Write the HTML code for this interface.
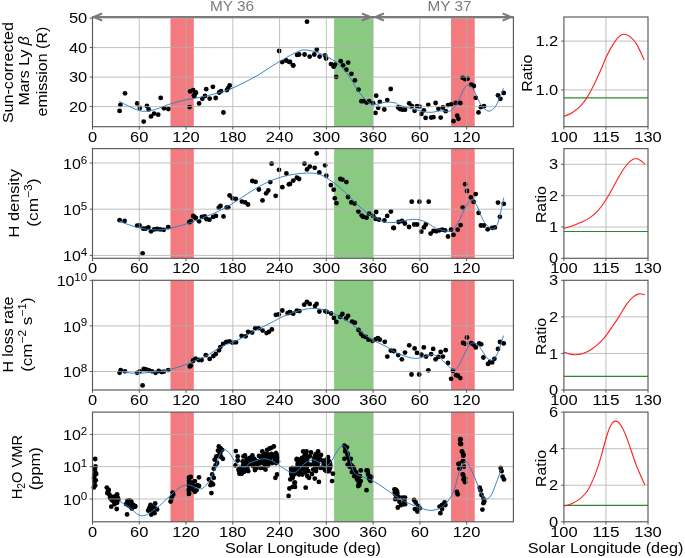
<!DOCTYPE html>
<html><head><meta charset="utf-8"><style>
html,body{margin:0;padding:0;background:#fff;overflow:hidden;}
svg{display:block;will-change:transform;}
text{font-family:"Liberation Sans",sans-serif;}
</style></head><body>
<svg width="685" height="558" viewBox="0 0 685 558">
<rect width="685" height="558" fill="#fff"/>
<g>
<rect x="170.44" y="17" width="23.38" height="109.7" fill="#f37b80"/>
<rect x="451.04" y="17" width="23.68" height="109.7" fill="#f37b80"/>
<rect x="334.13" y="17" width="38.97" height="109.7" fill="#8ac982"/>
<g fill="#000">
<circle cx="125" cy="93.3" r="2.4"/>
<circle cx="120.4" cy="104.9" r="2.4"/>
<circle cx="119.6" cy="110.9" r="2.4"/>
<circle cx="137.2" cy="103.4" r="2.4"/>
<circle cx="139.8" cy="108" r="2.4"/>
<circle cx="146.9" cy="106" r="2.4"/>
<circle cx="148.7" cy="109.4" r="2.4"/>
<circle cx="151" cy="116.4" r="2.4"/>
<circle cx="154.1" cy="113.6" r="2.4"/>
<circle cx="158.2" cy="114.7" r="2.4"/>
<circle cx="143.7" cy="121.6" r="2.4"/>
<circle cx="160.7" cy="97.9" r="2.4"/>
<circle cx="164" cy="108.3" r="2.4"/>
<circle cx="168.3" cy="109" r="2.4"/>
<circle cx="189.6" cy="107.1" r="2.4"/>
<circle cx="190.1" cy="91.4" r="2.4"/>
<circle cx="193.2" cy="90.2" r="2.4"/>
<circle cx="194.4" cy="96" r="2.4"/>
<circle cx="195.5" cy="92.5" r="2.4"/>
<circle cx="196" cy="92.8" r="2.4"/>
<circle cx="193.9" cy="95.5" r="2.4"/>
<circle cx="199.1" cy="103.4" r="2.4"/>
<circle cx="202.3" cy="98.8" r="2.4"/>
<circle cx="205" cy="96" r="2.4"/>
<circle cx="206.2" cy="89.2" r="2.4"/>
<circle cx="209.7" cy="98.6" r="2.4"/>
<circle cx="212.9" cy="86.8" r="2.4"/>
<circle cx="215.7" cy="98" r="2.4"/>
<circle cx="219.2" cy="92.5" r="2.4"/>
<circle cx="221.1" cy="91.2" r="2.4"/>
<circle cx="223.4" cy="112.5" r="2.4"/>
<circle cx="227" cy="90.1" r="2.4"/>
<circle cx="228.2" cy="88.1" r="2.4"/>
<circle cx="229.7" cy="85.4" r="2.4"/>
<circle cx="279.1" cy="51" r="2.4"/>
<circle cx="282.2" cy="62.1" r="2.4"/>
<circle cx="286.2" cy="60.5" r="2.4"/>
<circle cx="289" cy="61.8" r="2.4"/>
<circle cx="293.3" cy="65.5" r="2.4"/>
<circle cx="307" cy="21.7" r="2.4"/>
<circle cx="290" cy="62" r="2.4"/>
<circle cx="293" cy="65.3" r="2.4"/>
<circle cx="297.1" cy="54.9" r="2.4"/>
<circle cx="299.1" cy="54.5" r="2.4"/>
<circle cx="304.6" cy="54.5" r="2.4"/>
<circle cx="309.7" cy="56.6" r="2.4"/>
<circle cx="314.3" cy="54.5" r="2.4"/>
<circle cx="316.8" cy="49.5" r="2.4"/>
<circle cx="319.6" cy="56.6" r="2.4"/>
<circle cx="325.1" cy="55.5" r="2.4"/>
<circle cx="326.1" cy="58.6" r="2.4"/>
<circle cx="331" cy="64.1" r="2.4"/>
<circle cx="333.6" cy="66.7" r="2.4"/>
<circle cx="335" cy="64.7" r="2.4"/>
<circle cx="336.2" cy="76.8" r="2.4"/>
<circle cx="340.7" cy="61.2" r="2.4"/>
<circle cx="343.1" cy="65.3" r="2.4"/>
<circle cx="348.2" cy="62.6" r="2.4"/>
<circle cx="346.4" cy="69.7" r="2.4"/>
<circle cx="351.4" cy="73.8" r="2.4"/>
<circle cx="354.9" cy="80.3" r="2.4"/>
<circle cx="358.5" cy="89.6" r="2.4"/>
<circle cx="361.4" cy="101.2" r="2.4"/>
<circle cx="363.4" cy="101.2" r="2.4"/>
<circle cx="366.6" cy="102.6" r="2.4"/>
<circle cx="369.1" cy="101.2" r="2.4"/>
<circle cx="373.1" cy="103.2" r="2.4"/>
<circle cx="376.2" cy="95.7" r="2.4"/>
<circle cx="379.8" cy="101.8" r="2.4"/>
<circle cx="378.2" cy="107.8" r="2.4"/>
<circle cx="375.5" cy="112.9" r="2.4"/>
<circle cx="384.3" cy="109.5" r="2.4"/>
<circle cx="387.3" cy="100.1" r="2.4"/>
<circle cx="390.7" cy="89" r="2.4"/>
<circle cx="398.2" cy="107.5" r="2.4"/>
<circle cx="400" cy="109" r="2.4"/>
<circle cx="402.4" cy="109.7" r="2.4"/>
<circle cx="405" cy="109.7" r="2.4"/>
<circle cx="409.2" cy="103.3" r="2.4"/>
<circle cx="411.9" cy="106.1" r="2.4"/>
<circle cx="414.6" cy="110.8" r="2.4"/>
<circle cx="417" cy="106.1" r="2.4"/>
<circle cx="419.6" cy="106.6" r="2.4"/>
<circle cx="423.8" cy="110.3" r="2.4"/>
<circle cx="421.4" cy="113.9" r="2.4"/>
<circle cx="425.6" cy="117.9" r="2.4"/>
<circle cx="428.3" cy="104.8" r="2.4"/>
<circle cx="431.1" cy="117.6" r="2.4"/>
<circle cx="433.4" cy="117.2" r="2.4"/>
<circle cx="435.6" cy="103" r="2.4"/>
<circle cx="438.4" cy="108.8" r="2.4"/>
<circle cx="440.7" cy="117.6" r="2.4"/>
<circle cx="442.9" cy="107.5" r="2.4"/>
<circle cx="445.7" cy="111.2" r="2.4"/>
<circle cx="448" cy="105.1" r="2.4"/>
<circle cx="451.1" cy="104.4" r="2.4"/>
<circle cx="453.5" cy="121.2" r="2.4"/>
<circle cx="457.2" cy="115.7" r="2.4"/>
<circle cx="458.4" cy="118.8" r="2.4"/>
<circle cx="455.7" cy="103" r="2.4"/>
<circle cx="460.3" cy="103" r="2.4"/>
<circle cx="462.6" cy="77.8" r="2.4"/>
<circle cx="465.2" cy="79.2" r="2.4"/>
<circle cx="467.6" cy="78.7" r="2.4"/>
<circle cx="471.2" cy="84.7" r="2.4"/>
<circle cx="473.9" cy="86" r="2.4"/>
<circle cx="475.8" cy="97.8" r="2.4"/>
<circle cx="478.5" cy="112.4" r="2.4"/>
<circle cx="480.9" cy="107.2" r="2.4"/>
<circle cx="484" cy="106.2" r="2.4"/>
<circle cx="498" cy="95.3" r="2.4"/>
<circle cx="500.4" cy="98.8" r="2.4"/>
<circle cx="503.7" cy="92.9" r="2.4"/>
</g>
<line x1="139.27" y1="17" x2="139.27" y2="126.7" stroke="#b0b0b0" stroke-width="0.8"/>
<line x1="186.03" y1="17" x2="186.03" y2="126.7" stroke="#b0b0b0" stroke-width="0.8"/>
<line x1="232.8" y1="17" x2="232.8" y2="126.7" stroke="#b0b0b0" stroke-width="0.8"/>
<line x1="279.57" y1="17" x2="279.57" y2="126.7" stroke="#b0b0b0" stroke-width="0.8"/>
<line x1="326.33" y1="17" x2="326.33" y2="126.7" stroke="#b0b0b0" stroke-width="0.8"/>
<line x1="373.1" y1="17" x2="373.1" y2="126.7" stroke="#b0b0b0" stroke-width="0.8"/>
<line x1="419.87" y1="17" x2="419.87" y2="126.7" stroke="#b0b0b0" stroke-width="0.8"/>
<line x1="466.63" y1="17" x2="466.63" y2="126.7" stroke="#b0b0b0" stroke-width="0.8"/>
<line x1="92.5" y1="106.6" x2="513.4" y2="106.6" stroke="#b0b0b0" stroke-width="0.8"/>
<line x1="92.5" y1="77.1" x2="513.4" y2="77.1" stroke="#b0b0b0" stroke-width="0.8"/>
<line x1="92.5" y1="47.6" x2="513.4" y2="47.6" stroke="#b0b0b0" stroke-width="0.8"/>
<line x1="92.5" y1="18.1" x2="513.4" y2="18.1" stroke="#b0b0b0" stroke-width="0.8"/>
<path d="M119.3,101.4 C121.08,102.3 126.12,105.15 130,106.8 C133.88,108.45 138.2,110.92 142.6,111.3 C147,111.68 152.07,110.23 156.4,109.1 C160.73,107.97 164,105.98 168.6,104.5 C173.2,103.02 178.77,101.4 184,100.2 C189.23,99 194.9,98.35 200,97.3 C205.1,96.25 209.73,95.2 214.6,93.9 C219.47,92.6 224.33,91.37 229.2,89.5 C234.07,87.63 238.93,85.13 243.8,82.7 C248.67,80.27 253.53,77.78 258.4,74.9 C263.27,72.02 269.1,67.83 273,65.4 C276.9,62.97 278.88,62 281.8,60.3 C284.72,58.6 287.47,56.78 290.5,55.2 C293.53,53.62 297.42,51.67 300,50.8 C302.58,49.93 302.6,49.55 306,50 C309.4,50.45 315.3,51.4 320.4,53.5 C325.5,55.6 331.87,58.88 336.6,62.6 C341.33,66.32 345.42,71.4 348.8,75.8 C352.18,80.2 354.2,85.12 356.9,89 C359.6,92.88 362.3,96.5 365,99.1 C367.7,101.7 369.72,104.08 373.1,104.6 C376.48,105.12 381.65,102.5 385.3,102.2 C388.95,101.9 392.38,102.22 395,102.8 C397.62,103.38 395.75,104.15 401,105.7 C406.25,107.25 420,111.23 426.5,112.1 C433,112.97 436.92,111.05 440,110.9 C443.08,110.75 443.3,111.2 445,111.2 C446.7,111.2 448.48,111.8 450.2,110.9 C451.92,110 453.6,108.18 455.3,105.8 C457,103.42 458.87,99.58 460.4,96.6 C461.93,93.62 463.22,89.82 464.5,87.9 C465.78,85.98 466.9,85.27 468.1,85.1 C469.3,84.93 470.42,85.33 471.7,86.9 C472.98,88.47 474.27,91.52 475.8,94.5 C477.33,97.48 479.2,102.23 480.9,104.8 C482.6,107.37 484.47,108.88 486,109.9 C487.53,110.92 488.57,111.42 490.1,110.9 C491.63,110.38 493.67,108.85 495.2,106.8 C496.73,104.75 497.93,101.7 499.3,98.6 C500.67,95.5 502.72,89.93 503.4,88.2" fill="none" stroke="#2f7bbf" stroke-width="0.95"/>
<rect x="92.5" y="17" width="420.9" height="109.7" fill="none" stroke="#585858" stroke-width="1.15"/>
<line x1="89.7" y1="106.6" x2="92.5" y2="106.6" stroke="#585858" stroke-width="1"/>
<text x="87.3" y="111.7" font-size="14.83" text-anchor="end" fill="#000" textLength="18.32" lengthAdjust="spacingAndGlyphs">20</text>
<line x1="89.7" y1="77.1" x2="92.5" y2="77.1" stroke="#585858" stroke-width="1"/>
<text x="87.3" y="82.2" font-size="14.83" text-anchor="end" fill="#000" textLength="18.32" lengthAdjust="spacingAndGlyphs">30</text>
<line x1="89.7" y1="47.6" x2="92.5" y2="47.6" stroke="#585858" stroke-width="1"/>
<text x="87.3" y="52.7" font-size="14.83" text-anchor="end" fill="#000" textLength="18.32" lengthAdjust="spacingAndGlyphs">40</text>
<line x1="89.7" y1="18.1" x2="92.5" y2="18.1" stroke="#585858" stroke-width="1"/>
<text x="87.3" y="23.2" font-size="14.83" text-anchor="end" fill="#000" textLength="18.32" lengthAdjust="spacingAndGlyphs">50</text>
<line x1="92.5" y1="126.7" x2="92.5" y2="129.5" stroke="#585858" stroke-width="1"/>
<text x="92.5" y="141.8" font-size="14.83" text-anchor="middle" fill="#000" textLength="9.16" lengthAdjust="spacingAndGlyphs">0</text>
<line x1="139.27" y1="126.7" x2="139.27" y2="129.5" stroke="#585858" stroke-width="1"/>
<text x="139.27" y="141.8" font-size="14.83" text-anchor="middle" fill="#000" textLength="18.32" lengthAdjust="spacingAndGlyphs">60</text>
<line x1="186.03" y1="126.7" x2="186.03" y2="129.5" stroke="#585858" stroke-width="1"/>
<text x="186.03" y="141.8" font-size="14.83" text-anchor="middle" fill="#000" textLength="27.49" lengthAdjust="spacingAndGlyphs">120</text>
<line x1="232.8" y1="126.7" x2="232.8" y2="129.5" stroke="#585858" stroke-width="1"/>
<text x="232.8" y="141.8" font-size="14.83" text-anchor="middle" fill="#000" textLength="27.49" lengthAdjust="spacingAndGlyphs">180</text>
<line x1="279.57" y1="126.7" x2="279.57" y2="129.5" stroke="#585858" stroke-width="1"/>
<text x="279.57" y="141.8" font-size="14.83" text-anchor="middle" fill="#000" textLength="27.49" lengthAdjust="spacingAndGlyphs">240</text>
<line x1="326.33" y1="126.7" x2="326.33" y2="129.5" stroke="#585858" stroke-width="1"/>
<text x="326.33" y="141.8" font-size="14.83" text-anchor="middle" fill="#000" textLength="27.49" lengthAdjust="spacingAndGlyphs">300</text>
<line x1="373.1" y1="126.7" x2="373.1" y2="129.5" stroke="#585858" stroke-width="1"/>
<text x="373.1" y="141.8" font-size="14.83" text-anchor="middle" fill="#000" textLength="27.49" lengthAdjust="spacingAndGlyphs">360</text>
<line x1="419.87" y1="126.7" x2="419.87" y2="129.5" stroke="#585858" stroke-width="1"/>
<text x="419.87" y="141.8" font-size="14.83" text-anchor="middle" fill="#000" textLength="18.32" lengthAdjust="spacingAndGlyphs">60</text>
<line x1="466.63" y1="126.7" x2="466.63" y2="129.5" stroke="#585858" stroke-width="1"/>
<text x="466.63" y="141.8" font-size="14.83" text-anchor="middle" fill="#000" textLength="27.49" lengthAdjust="spacingAndGlyphs">120</text>
</g>
<g>
<rect x="170.44" y="148.6" width="23.38" height="109.7" fill="#f37b80"/>
<rect x="451.04" y="148.6" width="23.68" height="109.7" fill="#f37b80"/>
<rect x="334.13" y="148.6" width="38.97" height="109.7" fill="#8ac982"/>
<g fill="#000">
<circle cx="119.6" cy="220.2" r="2.4"/>
<circle cx="124.6" cy="220.9" r="2.4"/>
<circle cx="137.2" cy="225.7" r="2.4"/>
<circle cx="139.5" cy="225.5" r="2.4"/>
<circle cx="143.3" cy="228.7" r="2.4"/>
<circle cx="145.6" cy="228.7" r="2.4"/>
<circle cx="148.4" cy="227.5" r="2.4"/>
<circle cx="151" cy="231.3" r="2.4"/>
<circle cx="154.1" cy="229.4" r="2.4"/>
<circle cx="157.1" cy="229" r="2.4"/>
<circle cx="160.2" cy="229.4" r="2.4"/>
<circle cx="163.7" cy="229.8" r="2.4"/>
<circle cx="168.2" cy="227.2" r="2.4"/>
<circle cx="142.6" cy="253.3" r="2.4"/>
<circle cx="189.3" cy="222.2" r="2.4"/>
<circle cx="190.9" cy="221.1" r="2.4"/>
<circle cx="193.5" cy="216.3" r="2.4"/>
<circle cx="195.5" cy="217.6" r="2.4"/>
<circle cx="193.3" cy="215.9" r="2.4"/>
<circle cx="195.8" cy="218.1" r="2.4"/>
<circle cx="199.1" cy="221.3" r="2.4"/>
<circle cx="201.9" cy="216.9" r="2.4"/>
<circle cx="204.8" cy="216.4" r="2.4"/>
<circle cx="206.5" cy="219.2" r="2.4"/>
<circle cx="209.4" cy="219.7" r="2.4"/>
<circle cx="213.1" cy="216.9" r="2.4"/>
<circle cx="215.9" cy="215.9" r="2.4"/>
<circle cx="218.8" cy="207.7" r="2.4"/>
<circle cx="220.5" cy="206" r="2.4"/>
<circle cx="223.5" cy="216.4" r="2.4"/>
<circle cx="226.6" cy="207.7" r="2.4"/>
<circle cx="228.2" cy="207.3" r="2.4"/>
<circle cx="229.6" cy="195.5" r="2.4"/>
<circle cx="232.5" cy="198.3" r="2.4"/>
<circle cx="235.8" cy="198.8" r="2.4"/>
<circle cx="241.9" cy="201.6" r="2.4"/>
<circle cx="245.2" cy="202.4" r="2.4"/>
<circle cx="248" cy="204.5" r="2.4"/>
<circle cx="252.3" cy="181" r="2.4"/>
<circle cx="255.6" cy="181.8" r="2.4"/>
<circle cx="258.9" cy="189.5" r="2.4"/>
<circle cx="262.5" cy="200.4" r="2.4"/>
<circle cx="266.1" cy="193.3" r="2.4"/>
<circle cx="268.3" cy="190.5" r="2.4"/>
<circle cx="270.3" cy="182.1" r="2.4"/>
<circle cx="271.6" cy="163.7" r="2.4"/>
<circle cx="275.7" cy="195.8" r="2.4"/>
<circle cx="279" cy="169.8" r="2.4"/>
<circle cx="282.3" cy="187.2" r="2.4"/>
<circle cx="286.4" cy="173.5" r="2.4"/>
<circle cx="288.9" cy="184.3" r="2.4"/>
<circle cx="293.3" cy="180.6" r="2.4"/>
<circle cx="290" cy="183.9" r="2.4"/>
<circle cx="296.9" cy="177.7" r="2.4"/>
<circle cx="299.1" cy="179" r="2.4"/>
<circle cx="304.5" cy="163.7" r="2.4"/>
<circle cx="307" cy="169.4" r="2.4"/>
<circle cx="309.8" cy="166.6" r="2.4"/>
<circle cx="314.7" cy="167.8" r="2.4"/>
<circle cx="316.7" cy="153.4" r="2.4"/>
<circle cx="319.3" cy="172.4" r="2.4"/>
<circle cx="325.1" cy="165.3" r="2.4"/>
<circle cx="326.3" cy="175.7" r="2.4"/>
<circle cx="330.9" cy="185.1" r="2.4"/>
<circle cx="333.7" cy="189.7" r="2.4"/>
<circle cx="334.8" cy="198.3" r="2.4"/>
<circle cx="336.5" cy="203.2" r="2.4"/>
<circle cx="340.3" cy="179" r="2.4"/>
<circle cx="342.4" cy="179.6" r="2.4"/>
<circle cx="346.4" cy="182.1" r="2.4"/>
<circle cx="348" cy="197" r="2.4"/>
<circle cx="351.3" cy="202.4" r="2.4"/>
<circle cx="354.6" cy="203.5" r="2.4"/>
<circle cx="358.4" cy="211.5" r="2.4"/>
<circle cx="361.7" cy="215.6" r="2.4"/>
<circle cx="363.3" cy="216.9" r="2.4"/>
<circle cx="366.6" cy="217.7" r="2.4"/>
<circle cx="369.1" cy="213.6" r="2.4"/>
<circle cx="373.2" cy="215.9" r="2.4"/>
<circle cx="376.2" cy="212" r="2.4"/>
<circle cx="375.4" cy="218.9" r="2.4"/>
<circle cx="379" cy="219.7" r="2.4"/>
<circle cx="384.4" cy="220.5" r="2.4"/>
<circle cx="387.2" cy="215.9" r="2.4"/>
<circle cx="390.9" cy="211.5" r="2.4"/>
<circle cx="393.3" cy="227.9" r="2.4"/>
<circle cx="393.9" cy="228" r="2.4"/>
<circle cx="398.7" cy="222" r="2.4"/>
<circle cx="402" cy="221" r="2.4"/>
<circle cx="404.9" cy="223.5" r="2.4"/>
<circle cx="409" cy="227" r="2.4"/>
<circle cx="411.7" cy="201.7" r="2.4"/>
<circle cx="414.2" cy="224.5" r="2.4"/>
<circle cx="417.1" cy="224.5" r="2.4"/>
<circle cx="419.4" cy="201.7" r="2.4"/>
<circle cx="421.3" cy="231.7" r="2.4"/>
<circle cx="423.9" cy="227.4" r="2.4"/>
<circle cx="425.8" cy="224.5" r="2.4"/>
<circle cx="428.7" cy="201.7" r="2.4"/>
<circle cx="430.6" cy="233.6" r="2.4"/>
<circle cx="433.5" cy="230.9" r="2.4"/>
<circle cx="436.4" cy="231.3" r="2.4"/>
<circle cx="439.3" cy="230.3" r="2.4"/>
<circle cx="442.2" cy="229.7" r="2.4"/>
<circle cx="445.1" cy="230.3" r="2.4"/>
<circle cx="448" cy="236.5" r="2.4"/>
<circle cx="451" cy="229.7" r="2.4"/>
<circle cx="453.5" cy="234.8" r="2.4"/>
<circle cx="457.7" cy="229.7" r="2.4"/>
<circle cx="460.6" cy="225.1" r="2.4"/>
<circle cx="462.6" cy="207.7" r="2.4"/>
<circle cx="465.1" cy="184.2" r="2.4"/>
<circle cx="467" cy="191" r="2.4"/>
<circle cx="470.9" cy="197.4" r="2.4"/>
<circle cx="473.6" cy="201.9" r="2.4"/>
<circle cx="475.7" cy="194.1" r="2.4"/>
<circle cx="478.6" cy="212.9" r="2.4"/>
<circle cx="480.9" cy="225.5" r="2.4"/>
<circle cx="483.8" cy="225.5" r="2.4"/>
<circle cx="487.7" cy="229.3" r="2.4"/>
<circle cx="492.2" cy="227.8" r="2.4"/>
<circle cx="494.9" cy="227.4" r="2.4"/>
<circle cx="498" cy="202.6" r="2.4"/>
<circle cx="499.9" cy="216.8" r="2.4"/>
<circle cx="503.8" cy="203.8" r="2.4"/>
</g>
<line x1="139.27" y1="148.6" x2="139.27" y2="258.3" stroke="#b0b0b0" stroke-width="0.8"/>
<line x1="186.03" y1="148.6" x2="186.03" y2="258.3" stroke="#b0b0b0" stroke-width="0.8"/>
<line x1="232.8" y1="148.6" x2="232.8" y2="258.3" stroke="#b0b0b0" stroke-width="0.8"/>
<line x1="279.57" y1="148.6" x2="279.57" y2="258.3" stroke="#b0b0b0" stroke-width="0.8"/>
<line x1="326.33" y1="148.6" x2="326.33" y2="258.3" stroke="#b0b0b0" stroke-width="0.8"/>
<line x1="373.1" y1="148.6" x2="373.1" y2="258.3" stroke="#b0b0b0" stroke-width="0.8"/>
<line x1="419.87" y1="148.6" x2="419.87" y2="258.3" stroke="#b0b0b0" stroke-width="0.8"/>
<line x1="466.63" y1="148.6" x2="466.63" y2="258.3" stroke="#b0b0b0" stroke-width="0.8"/>
<line x1="92.5" y1="255.4" x2="513.4" y2="255.4" stroke="#b0b0b0" stroke-width="0.8"/>
<line x1="92.5" y1="209.2" x2="513.4" y2="209.2" stroke="#b0b0b0" stroke-width="0.8"/>
<line x1="92.5" y1="163" x2="513.4" y2="163" stroke="#b0b0b0" stroke-width="0.8"/>
<path d="M119.3,221.4 C122.92,222.55 134.05,226.9 141,228.3 C147.95,229.7 155.12,230.05 161,229.8 C166.88,229.55 171.45,228 176.3,226.8 C181.15,225.6 185.07,224.33 190.1,222.6 C195.13,220.87 201.02,218.67 206.5,216.4 C211.98,214.13 217.52,211.88 223,209 C228.48,206.12 233.92,202.53 239.4,199.1 C244.88,195.67 250.4,191.57 255.9,188.4 C261.4,185.23 266.9,182.3 272.4,180.1 C277.9,177.9 283.22,176.37 288.9,175.2 C294.58,174.03 301.37,173.23 306.5,173.1 C311.63,172.97 315.58,173.08 319.7,174.4 C323.82,175.72 327.37,178.4 331.2,181 C335.03,183.6 338.58,186.3 342.7,190 C346.82,193.7 351.77,199.35 355.9,203.2 C360.03,207.05 363.65,210.35 367.5,213.1 C371.35,215.85 375.92,218.18 379,219.7 C382.08,221.22 383.33,221.75 386,222.2 C388.67,222.65 390.47,222.88 395,222.4 C399.53,221.92 408.23,219.43 413.2,219.3 C418.17,219.17 420.93,220.08 424.8,221.6 C428.67,223.12 432.53,226.78 436.4,228.4 C440.27,230.02 445.08,231.3 448,231.3 C450.92,231.3 451.95,230.33 453.9,228.4 C455.85,226.47 457.77,223.25 459.7,219.7 C461.63,216.15 463.57,210.4 465.5,207.1 C467.43,203.8 469.37,200.07 471.3,199.9 C473.23,199.73 475.17,202.8 477.1,206.1 C479.03,209.4 480.65,215.98 482.9,219.7 C485.15,223.42 488.35,227.28 490.6,228.4 C492.85,229.52 494.78,228.82 496.4,226.4 C498.02,223.98 499.07,218.73 500.3,213.9 C501.53,209.07 503.22,200.15 503.8,197.4" fill="none" stroke="#2f7bbf" stroke-width="0.95"/>
<rect x="92.5" y="148.6" width="420.9" height="109.7" fill="none" stroke="#585858" stroke-width="1.15"/>
<line x1="89.7" y1="255.4" x2="92.5" y2="255.4" stroke="#585858" stroke-width="1"/>
<text x="87.1" y="255.9" font-size="10.4" text-anchor="end" fill="#000" textLength="6.43" lengthAdjust="spacingAndGlyphs">4</text>
<text x="80.87" y="261.1" font-size="15.43" text-anchor="end" fill="#000" textLength="17.77" lengthAdjust="spacingAndGlyphs">10</text>
<line x1="89.7" y1="209.2" x2="92.5" y2="209.2" stroke="#585858" stroke-width="1"/>
<text x="87.1" y="209.7" font-size="10.4" text-anchor="end" fill="#000" textLength="6.43" lengthAdjust="spacingAndGlyphs">5</text>
<text x="80.87" y="214.9" font-size="15.43" text-anchor="end" fill="#000" textLength="17.77" lengthAdjust="spacingAndGlyphs">10</text>
<line x1="89.7" y1="163" x2="92.5" y2="163" stroke="#585858" stroke-width="1"/>
<text x="87.1" y="163.5" font-size="10.4" text-anchor="end" fill="#000" textLength="6.43" lengthAdjust="spacingAndGlyphs">6</text>
<text x="80.87" y="168.7" font-size="15.43" text-anchor="end" fill="#000" textLength="17.77" lengthAdjust="spacingAndGlyphs">10</text>
<line x1="92.5" y1="258.3" x2="92.5" y2="261.1" stroke="#585858" stroke-width="1"/>
<text x="92.5" y="273.4" font-size="14.83" text-anchor="middle" fill="#000" textLength="9.16" lengthAdjust="spacingAndGlyphs">0</text>
<line x1="139.27" y1="258.3" x2="139.27" y2="261.1" stroke="#585858" stroke-width="1"/>
<text x="139.27" y="273.4" font-size="14.83" text-anchor="middle" fill="#000" textLength="18.32" lengthAdjust="spacingAndGlyphs">60</text>
<line x1="186.03" y1="258.3" x2="186.03" y2="261.1" stroke="#585858" stroke-width="1"/>
<text x="186.03" y="273.4" font-size="14.83" text-anchor="middle" fill="#000" textLength="27.49" lengthAdjust="spacingAndGlyphs">120</text>
<line x1="232.8" y1="258.3" x2="232.8" y2="261.1" stroke="#585858" stroke-width="1"/>
<text x="232.8" y="273.4" font-size="14.83" text-anchor="middle" fill="#000" textLength="27.49" lengthAdjust="spacingAndGlyphs">180</text>
<line x1="279.57" y1="258.3" x2="279.57" y2="261.1" stroke="#585858" stroke-width="1"/>
<text x="279.57" y="273.4" font-size="14.83" text-anchor="middle" fill="#000" textLength="27.49" lengthAdjust="spacingAndGlyphs">240</text>
<line x1="326.33" y1="258.3" x2="326.33" y2="261.1" stroke="#585858" stroke-width="1"/>
<text x="326.33" y="273.4" font-size="14.83" text-anchor="middle" fill="#000" textLength="27.49" lengthAdjust="spacingAndGlyphs">300</text>
<line x1="373.1" y1="258.3" x2="373.1" y2="261.1" stroke="#585858" stroke-width="1"/>
<text x="373.1" y="273.4" font-size="14.83" text-anchor="middle" fill="#000" textLength="27.49" lengthAdjust="spacingAndGlyphs">360</text>
<line x1="419.87" y1="258.3" x2="419.87" y2="261.1" stroke="#585858" stroke-width="1"/>
<text x="419.87" y="273.4" font-size="14.83" text-anchor="middle" fill="#000" textLength="18.32" lengthAdjust="spacingAndGlyphs">60</text>
<line x1="466.63" y1="258.3" x2="466.63" y2="261.1" stroke="#585858" stroke-width="1"/>
<text x="466.63" y="273.4" font-size="14.83" text-anchor="middle" fill="#000" textLength="27.49" lengthAdjust="spacingAndGlyphs">120</text>
</g>
<g>
<rect x="170.44" y="280.3" width="23.38" height="109.7" fill="#f37b80"/>
<rect x="451.04" y="280.3" width="23.68" height="109.7" fill="#f37b80"/>
<rect x="334.13" y="280.3" width="38.97" height="109.7" fill="#8ac982"/>
<g fill="#000">
<circle cx="119.6" cy="372.8" r="2.4"/>
<circle cx="120.7" cy="370.2" r="2.4"/>
<circle cx="125" cy="371.3" r="2.4"/>
<circle cx="137.2" cy="372.8" r="2.4"/>
<circle cx="139.8" cy="371.3" r="2.4"/>
<circle cx="143.7" cy="369" r="2.4"/>
<circle cx="146" cy="369.5" r="2.4"/>
<circle cx="149" cy="370.5" r="2.4"/>
<circle cx="152.1" cy="371.3" r="2.4"/>
<circle cx="155.6" cy="372.8" r="2.4"/>
<circle cx="158.7" cy="371" r="2.4"/>
<circle cx="161.7" cy="372.1" r="2.4"/>
<circle cx="164" cy="371.6" r="2.4"/>
<circle cx="168.2" cy="370.1" r="2.4"/>
<circle cx="142.6" cy="385.4" r="2.4"/>
<circle cx="189.8" cy="366.4" r="2.4"/>
<circle cx="193.2" cy="360.3" r="2.4"/>
<circle cx="195.5" cy="358.7" r="2.4"/>
<circle cx="190.8" cy="365.6" r="2.4"/>
<circle cx="193.2" cy="360.8" r="2.4"/>
<circle cx="198.9" cy="360" r="2.4"/>
<circle cx="201.6" cy="360" r="2.4"/>
<circle cx="205.8" cy="355.2" r="2.4"/>
<circle cx="209.7" cy="358.9" r="2.4"/>
<circle cx="213.4" cy="356" r="2.4"/>
<circle cx="215.8" cy="354" r="2.4"/>
<circle cx="219" cy="350.3" r="2.4"/>
<circle cx="220.3" cy="347.1" r="2.4"/>
<circle cx="223.1" cy="343.9" r="2.4"/>
<circle cx="226.3" cy="341.8" r="2.4"/>
<circle cx="229.5" cy="341.5" r="2.4"/>
<circle cx="232.7" cy="342.7" r="2.4"/>
<circle cx="236" cy="342.3" r="2.4"/>
<circle cx="241.6" cy="335.8" r="2.4"/>
<circle cx="245.6" cy="336.3" r="2.4"/>
<circle cx="248.1" cy="331.8" r="2.4"/>
<circle cx="252.1" cy="332.6" r="2.4"/>
<circle cx="255.3" cy="328.2" r="2.4"/>
<circle cx="258.5" cy="328.2" r="2.4"/>
<circle cx="262.6" cy="330.6" r="2.4"/>
<circle cx="266.6" cy="333.1" r="2.4"/>
<circle cx="269" cy="331.8" r="2.4"/>
<circle cx="271.9" cy="329.4" r="2.4"/>
<circle cx="275.8" cy="314.8" r="2.4"/>
<circle cx="278.7" cy="314.4" r="2.4"/>
<circle cx="282.3" cy="310.5" r="2.4"/>
<circle cx="287.6" cy="313.2" r="2.4"/>
<circle cx="289.7" cy="312.1" r="2.4"/>
<circle cx="293.2" cy="313.7" r="2.4"/>
<circle cx="290" cy="312.3" r="2.4"/>
<circle cx="296.8" cy="310.6" r="2.4"/>
<circle cx="299.4" cy="311.1" r="2.4"/>
<circle cx="304.2" cy="304.7" r="2.4"/>
<circle cx="306.9" cy="301.8" r="2.4"/>
<circle cx="309.7" cy="303.9" r="2.4"/>
<circle cx="315" cy="306.1" r="2.4"/>
<circle cx="316.6" cy="303.9" r="2.4"/>
<circle cx="319.4" cy="311.5" r="2.4"/>
<circle cx="325.2" cy="311.1" r="2.4"/>
<circle cx="326.8" cy="311.9" r="2.4"/>
<circle cx="331.1" cy="313.5" r="2.4"/>
<circle cx="333.9" cy="317.9" r="2.4"/>
<circle cx="336.3" cy="321.9" r="2.4"/>
<circle cx="340.3" cy="316.8" r="2.4"/>
<circle cx="342.4" cy="313.9" r="2.4"/>
<circle cx="346.1" cy="318.4" r="2.4"/>
<circle cx="348.1" cy="315.8" r="2.4"/>
<circle cx="352.1" cy="321.6" r="2.4"/>
<circle cx="354.8" cy="322.7" r="2.4"/>
<circle cx="358.5" cy="330" r="2.4"/>
<circle cx="361" cy="333.7" r="2.4"/>
<circle cx="362.9" cy="336.1" r="2.4"/>
<circle cx="365.8" cy="336.9" r="2.4"/>
<circle cx="368.5" cy="339.7" r="2.4"/>
<circle cx="372.6" cy="341" r="2.4"/>
<circle cx="375.5" cy="339.4" r="2.4"/>
<circle cx="377.9" cy="338.1" r="2.4"/>
<circle cx="379.8" cy="339.7" r="2.4"/>
<circle cx="384.8" cy="341.8" r="2.4"/>
<circle cx="387.3" cy="356.6" r="2.4"/>
<circle cx="390.8" cy="350.6" r="2.4"/>
<circle cx="394" cy="351" r="2.4"/>
<circle cx="394" cy="351.1" r="2.4"/>
<circle cx="398.2" cy="355.1" r="2.4"/>
<circle cx="401.9" cy="359.3" r="2.4"/>
<circle cx="405" cy="352.6" r="2.4"/>
<circle cx="409.2" cy="345.3" r="2.4"/>
<circle cx="411.5" cy="374.5" r="2.4"/>
<circle cx="414.6" cy="348.4" r="2.4"/>
<circle cx="417" cy="352.9" r="2.4"/>
<circle cx="419.2" cy="374.5" r="2.4"/>
<circle cx="421.4" cy="354.7" r="2.4"/>
<circle cx="423.8" cy="347.4" r="2.4"/>
<circle cx="426.1" cy="356.6" r="2.4"/>
<circle cx="428.3" cy="370.3" r="2.4"/>
<circle cx="431.1" cy="354.2" r="2.4"/>
<circle cx="433.2" cy="348.9" r="2.4"/>
<circle cx="435.6" cy="359.3" r="2.4"/>
<circle cx="438.4" cy="356.9" r="2.4"/>
<circle cx="440.7" cy="352" r="2.4"/>
<circle cx="442.9" cy="356.6" r="2.4"/>
<circle cx="445.7" cy="350.2" r="2.4"/>
<circle cx="448" cy="363" r="2.4"/>
<circle cx="453" cy="370.8" r="2.4"/>
<circle cx="451.1" cy="378.8" r="2.4"/>
<circle cx="456.1" cy="375.2" r="2.4"/>
<circle cx="457.9" cy="375.7" r="2.4"/>
<circle cx="460.3" cy="378.1" r="2.4"/>
<circle cx="463" cy="342.9" r="2.4"/>
<circle cx="465.2" cy="343.8" r="2.4"/>
<circle cx="467" cy="337.4" r="2.4"/>
<circle cx="471.2" cy="343.2" r="2.4"/>
<circle cx="473.6" cy="344.7" r="2.4"/>
<circle cx="475.8" cy="347.4" r="2.4"/>
<circle cx="479.1" cy="343.4" r="2.4"/>
<circle cx="481.2" cy="344.3" r="2.4"/>
<circle cx="483.4" cy="357.5" r="2.4"/>
<circle cx="488" cy="363.9" r="2.4"/>
<circle cx="490" cy="362" r="2.4"/>
<circle cx="492.2" cy="362.4" r="2.4"/>
<circle cx="494.4" cy="358.8" r="2.4"/>
<circle cx="498" cy="348.9" r="2.4"/>
<circle cx="500" cy="342" r="2.4"/>
<circle cx="503.7" cy="343.4" r="2.4"/>
</g>
<line x1="139.27" y1="280.3" x2="139.27" y2="390" stroke="#b0b0b0" stroke-width="0.8"/>
<line x1="186.03" y1="280.3" x2="186.03" y2="390" stroke="#b0b0b0" stroke-width="0.8"/>
<line x1="232.8" y1="280.3" x2="232.8" y2="390" stroke="#b0b0b0" stroke-width="0.8"/>
<line x1="279.57" y1="280.3" x2="279.57" y2="390" stroke="#b0b0b0" stroke-width="0.8"/>
<line x1="326.33" y1="280.3" x2="326.33" y2="390" stroke="#b0b0b0" stroke-width="0.8"/>
<line x1="373.1" y1="280.3" x2="373.1" y2="390" stroke="#b0b0b0" stroke-width="0.8"/>
<line x1="419.87" y1="280.3" x2="419.87" y2="390" stroke="#b0b0b0" stroke-width="0.8"/>
<line x1="466.63" y1="280.3" x2="466.63" y2="390" stroke="#b0b0b0" stroke-width="0.8"/>
<line x1="92.5" y1="371.5" x2="513.4" y2="371.5" stroke="#b0b0b0" stroke-width="0.8"/>
<line x1="92.5" y1="325.9" x2="513.4" y2="325.9" stroke="#b0b0b0" stroke-width="0.8"/>
<path d="M118.8,371.3 C121.48,371.62 129.15,373.07 134.9,373.2 C140.65,373.33 147.68,372.67 153.3,372.1 C158.92,371.53 163.48,370.95 168.6,369.8 C173.72,368.65 179.27,366.87 184,365.2 C188.73,363.53 193.32,361.33 197,359.8 C200.68,358.27 201.88,358.25 206.1,356 C210.32,353.75 216.92,349 222.3,346.3 C227.68,343.6 233.03,342.35 238.4,339.8 C243.77,337.25 249.13,333.82 254.5,331 C259.87,328.18 265.22,325.6 270.6,322.9 C275.98,320.2 281.42,316.98 286.8,314.8 C292.18,312.62 298.33,310.85 302.9,309.8 C307.47,308.75 310.17,308.37 314.2,308.5 C318.23,308.63 323.07,309.3 327.1,310.6 C331.13,311.9 334.37,314.15 338.4,316.3 C342.43,318.45 347.27,320.68 351.3,323.5 C355.33,326.32 358.83,330.37 362.6,333.2 C366.37,336.03 369.87,338.22 373.9,340.5 C377.93,342.78 383.78,345.23 386.8,346.9 C389.82,348.57 389.63,349.2 392,350.5 C394.37,351.8 397.08,353.38 401,354.7 C404.92,356.02 410.33,358.4 415.5,358.4 C420.67,358.4 428.75,355.17 432,354.7 C435.25,354.23 433.97,355.32 435,355.6 C436.03,355.88 436.85,355.53 438.2,356.4 C439.55,357.27 441.48,359.27 443.1,360.8 C444.72,362.33 446.3,364.15 447.9,365.6 C449.5,367.05 451.22,369.08 452.7,369.5 C454.18,369.92 455.45,369.42 456.8,368.1 C458.15,366.78 459.47,364.03 460.8,361.6 C462.13,359.17 463.45,356.18 464.8,353.5 C466.15,350.82 467.68,347.23 468.9,345.5 C470.12,343.77 470.9,343.37 472.1,343.1 C473.3,342.83 474.78,343.17 476.1,343.9 C477.42,344.63 478.23,345.23 480,347.5 C481.77,349.77 484.67,355.38 486.7,357.5 C488.73,359.62 490.37,360.97 492.2,360.2 C494.03,359.43 495.82,357 497.7,352.9 C499.58,348.8 502.53,338.48 503.5,335.6" fill="none" stroke="#2f7bbf" stroke-width="0.95"/>
<rect x="92.5" y="280.3" width="420.9" height="109.7" fill="none" stroke="#585858" stroke-width="1.15"/>
<line x1="89.7" y1="371.5" x2="92.5" y2="371.5" stroke="#585858" stroke-width="1"/>
<text x="87.1" y="372" font-size="10.4" text-anchor="end" fill="#000" textLength="6.43" lengthAdjust="spacingAndGlyphs">8</text>
<text x="80.87" y="377.2" font-size="15.43" text-anchor="end" fill="#000" textLength="17.77" lengthAdjust="spacingAndGlyphs">10</text>
<line x1="89.7" y1="325.9" x2="92.5" y2="325.9" stroke="#585858" stroke-width="1"/>
<text x="87.1" y="326.4" font-size="10.4" text-anchor="end" fill="#000" textLength="6.43" lengthAdjust="spacingAndGlyphs">9</text>
<text x="80.87" y="331.6" font-size="15.43" text-anchor="end" fill="#000" textLength="17.77" lengthAdjust="spacingAndGlyphs">10</text>
<line x1="89.7" y1="280.3" x2="92.5" y2="280.3" stroke="#585858" stroke-width="1"/>
<text x="87.1" y="280.8" font-size="10.4" text-anchor="end" fill="#000" textLength="12.85" lengthAdjust="spacingAndGlyphs">10</text>
<text x="74.45" y="286" font-size="15.43" text-anchor="end" fill="#000" textLength="17.77" lengthAdjust="spacingAndGlyphs">10</text>
<line x1="92.5" y1="390" x2="92.5" y2="392.8" stroke="#585858" stroke-width="1"/>
<text x="92.5" y="405.1" font-size="14.83" text-anchor="middle" fill="#000" textLength="9.16" lengthAdjust="spacingAndGlyphs">0</text>
<line x1="139.27" y1="390" x2="139.27" y2="392.8" stroke="#585858" stroke-width="1"/>
<text x="139.27" y="405.1" font-size="14.83" text-anchor="middle" fill="#000" textLength="18.32" lengthAdjust="spacingAndGlyphs">60</text>
<line x1="186.03" y1="390" x2="186.03" y2="392.8" stroke="#585858" stroke-width="1"/>
<text x="186.03" y="405.1" font-size="14.83" text-anchor="middle" fill="#000" textLength="27.49" lengthAdjust="spacingAndGlyphs">120</text>
<line x1="232.8" y1="390" x2="232.8" y2="392.8" stroke="#585858" stroke-width="1"/>
<text x="232.8" y="405.1" font-size="14.83" text-anchor="middle" fill="#000" textLength="27.49" lengthAdjust="spacingAndGlyphs">180</text>
<line x1="279.57" y1="390" x2="279.57" y2="392.8" stroke="#585858" stroke-width="1"/>
<text x="279.57" y="405.1" font-size="14.83" text-anchor="middle" fill="#000" textLength="27.49" lengthAdjust="spacingAndGlyphs">240</text>
<line x1="326.33" y1="390" x2="326.33" y2="392.8" stroke="#585858" stroke-width="1"/>
<text x="326.33" y="405.1" font-size="14.83" text-anchor="middle" fill="#000" textLength="27.49" lengthAdjust="spacingAndGlyphs">300</text>
<line x1="373.1" y1="390" x2="373.1" y2="392.8" stroke="#585858" stroke-width="1"/>
<text x="373.1" y="405.1" font-size="14.83" text-anchor="middle" fill="#000" textLength="27.49" lengthAdjust="spacingAndGlyphs">360</text>
<line x1="419.87" y1="390" x2="419.87" y2="392.8" stroke="#585858" stroke-width="1"/>
<text x="419.87" y="405.1" font-size="14.83" text-anchor="middle" fill="#000" textLength="18.32" lengthAdjust="spacingAndGlyphs">60</text>
<line x1="466.63" y1="390" x2="466.63" y2="392.8" stroke="#585858" stroke-width="1"/>
<text x="466.63" y="405.1" font-size="14.83" text-anchor="middle" fill="#000" textLength="27.49" lengthAdjust="spacingAndGlyphs">120</text>
</g>
<g>
<rect x="170.44" y="412.1" width="23.38" height="109.7" fill="#f37b80"/>
<rect x="451.04" y="412.1" width="23.68" height="109.7" fill="#f37b80"/>
<rect x="334.13" y="412.1" width="38.97" height="109.7" fill="#8ac982"/>
<g fill="#000">
<circle cx="95.2" cy="459" r="2.4"/>
<circle cx="94.9" cy="469.3" r="2.4"/>
<circle cx="95.4" cy="472.6" r="2.4"/>
<circle cx="94.5" cy="475.8" r="2.4"/>
<circle cx="95.8" cy="480.3" r="2.4"/>
<circle cx="94.5" cy="481.6" r="2.4"/>
<circle cx="95.2" cy="485.4" r="2.4"/>
<circle cx="93.9" cy="487.4" r="2.4"/>
<circle cx="95.5" cy="466.5" r="2.4"/>
<circle cx="94" cy="478" r="2.4"/>
<circle cx="96.2" cy="474" r="2.4"/>
<circle cx="106.8" cy="487.6" r="2.4"/>
<circle cx="108.7" cy="490" r="2.4"/>
<circle cx="107.4" cy="493.2" r="2.4"/>
<circle cx="109.3" cy="494.5" r="2.4"/>
<circle cx="110.6" cy="496.4" r="2.4"/>
<circle cx="112.6" cy="499.6" r="2.4"/>
<circle cx="113.8" cy="501.5" r="2.4"/>
<circle cx="115.8" cy="502.2" r="2.4"/>
<circle cx="117.1" cy="494.5" r="2.4"/>
<circle cx="117.7" cy="497.7" r="2.4"/>
<circle cx="118.4" cy="499.6" r="2.4"/>
<circle cx="117.1" cy="502.8" r="2.4"/>
<circle cx="111.3" cy="506.7" r="2.4"/>
<circle cx="116.7" cy="509" r="2.4"/>
<circle cx="115.1" cy="499" r="2.4"/>
<circle cx="111.9" cy="500.3" r="2.4"/>
<circle cx="108" cy="491.5" r="2.4"/>
<circle cx="110" cy="498" r="2.4"/>
<circle cx="113.5" cy="497" r="2.4"/>
<circle cx="116" cy="496" r="2.4"/>
<circle cx="114.5" cy="504" r="2.4"/>
<circle cx="127.4" cy="500.9" r="2.4"/>
<circle cx="129.3" cy="500.3" r="2.4"/>
<circle cx="131.2" cy="501.5" r="2.4"/>
<circle cx="126.1" cy="504.1" r="2.4"/>
<circle cx="128.7" cy="505.4" r="2.4"/>
<circle cx="130.6" cy="506.7" r="2.4"/>
<circle cx="133.2" cy="504.8" r="2.4"/>
<circle cx="135.1" cy="506.7" r="2.4"/>
<circle cx="131.9" cy="508.6" r="2.4"/>
<circle cx="127.1" cy="514.4" r="2.4"/>
<circle cx="131.3" cy="502.9" r="2.4"/>
<circle cx="135.2" cy="506.1" r="2.4"/>
<circle cx="129" cy="503" r="2.4"/>
<circle cx="132.5" cy="507" r="2.4"/>
<circle cx="150.6" cy="504.8" r="2.4"/>
<circle cx="155.2" cy="503.5" r="2.4"/>
<circle cx="149.4" cy="508.1" r="2.4"/>
<circle cx="148.1" cy="510.6" r="2.4"/>
<circle cx="151.9" cy="510.6" r="2.4"/>
<circle cx="155.8" cy="508.7" r="2.4"/>
<circle cx="151.3" cy="514.5" r="2.4"/>
<circle cx="154.5" cy="513.2" r="2.4"/>
<circle cx="157.1" cy="509.4" r="2.4"/>
<circle cx="150" cy="506.8" r="2.4"/>
<circle cx="153" cy="507.5" r="2.4"/>
<circle cx="152.5" cy="511.5" r="2.4"/>
<circle cx="172.6" cy="492.6" r="2.4"/>
<circle cx="173.2" cy="494.5" r="2.4"/>
<circle cx="171.9" cy="497.1" r="2.4"/>
<circle cx="171.3" cy="499" r="2.4"/>
<circle cx="170.6" cy="501.6" r="2.4"/>
<circle cx="188.7" cy="477.7" r="2.4"/>
<circle cx="189" cy="481" r="2.4"/>
<circle cx="188.7" cy="485" r="2.4"/>
<circle cx="189.2" cy="489" r="2.4"/>
<circle cx="188.7" cy="493.9" r="2.4"/>
<circle cx="190.8" cy="477" r="2.4"/>
<circle cx="189.1" cy="481.1" r="2.4"/>
<circle cx="192.4" cy="482.7" r="2.4"/>
<circle cx="194.9" cy="481.1" r="2.4"/>
<circle cx="199" cy="477.3" r="2.4"/>
<circle cx="190" cy="486" r="2.4"/>
<circle cx="194.1" cy="486" r="2.4"/>
<circle cx="197.4" cy="485.2" r="2.4"/>
<circle cx="188.3" cy="490.2" r="2.4"/>
<circle cx="192.4" cy="489.3" r="2.4"/>
<circle cx="196.5" cy="490.2" r="2.4"/>
<circle cx="189.1" cy="493.5" r="2.4"/>
<circle cx="194.9" cy="491.8" r="2.4"/>
<circle cx="199" cy="486" r="2.4"/>
<circle cx="211.4" cy="493.1" r="2.4"/>
<circle cx="208.9" cy="479.4" r="2.4"/>
<circle cx="211.4" cy="482.7" r="2.4"/>
<circle cx="212.2" cy="474.5" r="2.4"/>
<circle cx="213.8" cy="477.8" r="2.4"/>
<circle cx="213" cy="484.4" r="2.4"/>
<circle cx="210.5" cy="485.2" r="2.4"/>
<circle cx="213.8" cy="468.7" r="2.4"/>
<circle cx="215.5" cy="465.4" r="2.4"/>
<circle cx="214.7" cy="459.7" r="2.4"/>
<circle cx="216.3" cy="456.4" r="2.4"/>
<circle cx="218.8" cy="455.5" r="2.4"/>
<circle cx="218" cy="450.6" r="2.4"/>
<circle cx="218.8" cy="446.5" r="2.4"/>
<circle cx="220.4" cy="448.1" r="2.4"/>
<circle cx="222.1" cy="449.8" r="2.4"/>
<circle cx="220.4" cy="453.1" r="2.4"/>
<circle cx="222.9" cy="458.8" r="2.4"/>
<circle cx="221.3" cy="457.2" r="2.4"/>
<circle cx="217.1" cy="463" r="2.4"/>
<circle cx="235.8" cy="451.1" r="2.4"/>
<circle cx="237.7" cy="456.4" r="2.4"/>
<circle cx="237.7" cy="460.5" r="2.4"/>
<circle cx="235.3" cy="465.4" r="2.4"/>
<circle cx="238.6" cy="469.6" r="2.4"/>
<circle cx="241" cy="473.7" r="2.4"/>
<circle cx="239.4" cy="473.7" r="2.4"/>
<circle cx="243.5" cy="456.4" r="2.4"/>
<circle cx="242.7" cy="461.3" r="2.4"/>
<circle cx="243.5" cy="467.9" r="2.4"/>
<circle cx="241.9" cy="471.2" r="2.4"/>
<circle cx="240.8" cy="469.6" r="2.4"/>
<circle cx="241.6" cy="473.7" r="2.4"/>
<circle cx="244.9" cy="455.5" r="2.4"/>
<circle cx="246.6" cy="459.7" r="2.4"/>
<circle cx="247.4" cy="467.9" r="2.4"/>
<circle cx="248.2" cy="471.2" r="2.4"/>
<circle cx="249.1" cy="463.8" r="2.4"/>
<circle cx="249.9" cy="458" r="2.4"/>
<circle cx="252.4" cy="455.5" r="2.4"/>
<circle cx="254" cy="458.8" r="2.4"/>
<circle cx="255.7" cy="462.1" r="2.4"/>
<circle cx="257.3" cy="464.6" r="2.4"/>
<circle cx="258.1" cy="461.3" r="2.4"/>
<circle cx="260.6" cy="467.9" r="2.4"/>
<circle cx="261.4" cy="458.8" r="2.4"/>
<circle cx="262.3" cy="451.4" r="2.4"/>
<circle cx="263.1" cy="463" r="2.4"/>
<circle cx="264.7" cy="456.4" r="2.4"/>
<circle cx="265.5" cy="469.6" r="2.4"/>
<circle cx="266.4" cy="460.5" r="2.4"/>
<circle cx="267.2" cy="449.8" r="2.4"/>
<circle cx="268" cy="465.4" r="2.4"/>
<circle cx="269.7" cy="448.5" r="2.4"/>
<circle cx="271.3" cy="447.8" r="2.4"/>
<circle cx="273.8" cy="446.5" r="2.4"/>
<circle cx="271.3" cy="453.9" r="2.4"/>
<circle cx="273" cy="456.4" r="2.4"/>
<circle cx="274.6" cy="454.7" r="2.4"/>
<circle cx="275.4" cy="459.7" r="2.4"/>
<circle cx="277.1" cy="457.2" r="2.4"/>
<circle cx="277.9" cy="461.3" r="2.4"/>
<circle cx="272.1" cy="463" r="2.4"/>
<circle cx="259.8" cy="463" r="2.4"/>
<circle cx="251.5" cy="461.3" r="2.4"/>
<circle cx="243.3" cy="464.6" r="2.4"/>
<circle cx="256.5" cy="467.9" r="2.4"/>
<circle cx="263.9" cy="467.9" r="2.4"/>
<circle cx="275.4" cy="477.8" r="2.4"/>
<circle cx="277.1" cy="474.5" r="2.4"/>
<circle cx="253" cy="466" r="2.4"/>
<circle cx="259" cy="456" r="2.4"/>
<circle cx="268.5" cy="457" r="2.4"/>
<circle cx="270" cy="461" r="2.4"/>
<circle cx="246" cy="464" r="2.4"/>
<circle cx="255" cy="470" r="2.4"/>
<circle cx="288.6" cy="495.9" r="2.4"/>
<circle cx="289.4" cy="488.5" r="2.4"/>
<circle cx="290.3" cy="479.4" r="2.4"/>
<circle cx="292.7" cy="486.9" r="2.4"/>
<circle cx="294.4" cy="482.7" r="2.4"/>
<circle cx="291.9" cy="473.7" r="2.4"/>
<circle cx="291.1" cy="468.7" r="2.4"/>
<circle cx="293.6" cy="468.7" r="2.4"/>
<circle cx="296" cy="469.6" r="2.4"/>
<circle cx="296.9" cy="458.8" r="2.4"/>
<circle cx="298.5" cy="461.3" r="2.4"/>
<circle cx="295.2" cy="473.7" r="2.4"/>
<circle cx="298.5" cy="472.9" r="2.4"/>
<circle cx="292.7" cy="477.8" r="2.4"/>
<circle cx="295" cy="482.7" r="2.4"/>
<circle cx="295" cy="486.9" r="2.4"/>
<circle cx="296.6" cy="459.7" r="2.4"/>
<circle cx="297.5" cy="467.9" r="2.4"/>
<circle cx="299.1" cy="474.5" r="2.4"/>
<circle cx="300.8" cy="463" r="2.4"/>
<circle cx="301.6" cy="469.6" r="2.4"/>
<circle cx="303.2" cy="451.4" r="2.4"/>
<circle cx="304.1" cy="458.8" r="2.4"/>
<circle cx="304.9" cy="464.6" r="2.4"/>
<circle cx="305.7" cy="487.7" r="2.4"/>
<circle cx="306.5" cy="451.4" r="2.4"/>
<circle cx="307.4" cy="476.2" r="2.4"/>
<circle cx="308.2" cy="471.2" r="2.4"/>
<circle cx="309" cy="477.8" r="2.4"/>
<circle cx="309.8" cy="456.4" r="2.4"/>
<circle cx="310.7" cy="464.6" r="2.4"/>
<circle cx="313.1" cy="469.6" r="2.4"/>
<circle cx="314" cy="460.5" r="2.4"/>
<circle cx="314.8" cy="478.6" r="2.4"/>
<circle cx="316.4" cy="454.7" r="2.4"/>
<circle cx="317.3" cy="463" r="2.4"/>
<circle cx="318.1" cy="451.4" r="2.4"/>
<circle cx="318.9" cy="481.9" r="2.4"/>
<circle cx="319.7" cy="458.8" r="2.4"/>
<circle cx="320.5" cy="467.9" r="2.4"/>
<circle cx="322.2" cy="460.5" r="2.4"/>
<circle cx="323.8" cy="464.6" r="2.4"/>
<circle cx="325.5" cy="467.9" r="2.4"/>
<circle cx="328" cy="457.2" r="2.4"/>
<circle cx="328.8" cy="471.2" r="2.4"/>
<circle cx="329.6" cy="463" r="2.4"/>
<circle cx="332.1" cy="481.1" r="2.4"/>
<circle cx="332.9" cy="473.7" r="2.4"/>
<circle cx="298.3" cy="471.2" r="2.4"/>
<circle cx="302.4" cy="474.5" r="2.4"/>
<circle cx="302" cy="458" r="2.4"/>
<circle cx="306" cy="460" r="2.4"/>
<circle cx="311" cy="452.5" r="2.4"/>
<circle cx="312" cy="474" r="2.4"/>
<circle cx="316" cy="471" r="2.4"/>
<circle cx="321" cy="455" r="2.4"/>
<circle cx="326" cy="461" r="2.4"/>
<circle cx="330" cy="468" r="2.4"/>
<circle cx="344.4" cy="445.7" r="2.4"/>
<circle cx="346.9" cy="447.3" r="2.4"/>
<circle cx="345.3" cy="451.4" r="2.4"/>
<circle cx="344.4" cy="458.8" r="2.4"/>
<circle cx="347.7" cy="454.7" r="2.4"/>
<circle cx="349.4" cy="459.7" r="2.4"/>
<circle cx="347.7" cy="464.6" r="2.4"/>
<circle cx="351" cy="467.1" r="2.4"/>
<circle cx="351.9" cy="472" r="2.4"/>
<circle cx="354.3" cy="476.2" r="2.4"/>
<circle cx="350.8" cy="458.8" r="2.4"/>
<circle cx="351.6" cy="465.4" r="2.4"/>
<circle cx="354.1" cy="469.6" r="2.4"/>
<circle cx="355.8" cy="474.5" r="2.4"/>
<circle cx="357.4" cy="479.4" r="2.4"/>
<circle cx="359.1" cy="483.6" r="2.4"/>
<circle cx="358.2" cy="486" r="2.4"/>
<circle cx="360.7" cy="470.4" r="2.4"/>
<circle cx="359.9" cy="476.2" r="2.4"/>
<circle cx="360.7" cy="481.1" r="2.4"/>
<circle cx="366.5" cy="470.4" r="2.4"/>
<circle cx="368.1" cy="474.5" r="2.4"/>
<circle cx="369" cy="478.6" r="2.4"/>
<circle cx="370.6" cy="481.1" r="2.4"/>
<circle cx="371.4" cy="477" r="2.4"/>
<circle cx="366.5" cy="490.2" r="2.4"/>
<circle cx="356.6" cy="477.8" r="2.4"/>
<circle cx="394.5" cy="489.3" r="2.4"/>
<circle cx="397" cy="493.5" r="2.4"/>
<circle cx="398.6" cy="496.8" r="2.4"/>
<circle cx="395.3" cy="499.2" r="2.4"/>
<circle cx="399.4" cy="501.7" r="2.4"/>
<circle cx="402.7" cy="497.6" r="2.4"/>
<circle cx="404.4" cy="500.9" r="2.4"/>
<circle cx="401.1" cy="505" r="2.4"/>
<circle cx="397.8" cy="507.5" r="2.4"/>
<circle cx="403.6" cy="504.2" r="2.4"/>
<circle cx="405" cy="497.6" r="2.4"/>
<circle cx="405" cy="504.2" r="2.4"/>
<circle cx="414.1" cy="500" r="2.4"/>
<circle cx="415.7" cy="502.5" r="2.4"/>
<circle cx="418.2" cy="505.8" r="2.4"/>
<circle cx="414.9" cy="509.1" r="2.4"/>
<circle cx="417.4" cy="511.6" r="2.4"/>
<circle cx="419.8" cy="508.3" r="2.4"/>
<circle cx="439.6" cy="506.6" r="2.4"/>
<circle cx="442.1" cy="505" r="2.4"/>
<circle cx="444.6" cy="502.5" r="2.4"/>
<circle cx="445.4" cy="505" r="2.4"/>
<circle cx="442.1" cy="509.1" r="2.4"/>
<circle cx="440.4" cy="513.2" r="2.4"/>
<circle cx="456.9" cy="491.8" r="2.4"/>
<circle cx="457.7" cy="494.3" r="2.4"/>
<circle cx="460.2" cy="439.9" r="2.4"/>
<circle cx="461" cy="444" r="2.4"/>
<circle cx="461.9" cy="451.4" r="2.4"/>
<circle cx="463.5" cy="454.7" r="2.4"/>
<circle cx="458.6" cy="463.8" r="2.4"/>
<circle cx="459.4" cy="467.9" r="2.4"/>
<circle cx="462.7" cy="461.3" r="2.4"/>
<circle cx="462.7" cy="474.5" r="2.4"/>
<circle cx="463.5" cy="479.4" r="2.4"/>
<circle cx="460.5" cy="439.2" r="2.4"/>
<circle cx="460.1" cy="443.8" r="2.4"/>
<circle cx="462.3" cy="452" r="2.4"/>
<circle cx="463.2" cy="455.7" r="2.4"/>
<circle cx="458.7" cy="463.9" r="2.4"/>
<circle cx="463.2" cy="461.2" r="2.4"/>
<circle cx="459.6" cy="468.5" r="2.4"/>
<circle cx="464.1" cy="466.6" r="2.4"/>
<circle cx="463.2" cy="474.9" r="2.4"/>
<circle cx="465.1" cy="478.5" r="2.4"/>
<circle cx="465.1" cy="482.2" r="2.4"/>
<circle cx="479.7" cy="487.7" r="2.4"/>
<circle cx="480.6" cy="490.4" r="2.4"/>
<circle cx="481.5" cy="495" r="2.4"/>
<circle cx="483.4" cy="498.7" r="2.4"/>
<circle cx="483.4" cy="503.2" r="2.4"/>
<circle cx="482.4" cy="509.6" r="2.4"/>
<circle cx="484.3" cy="501.4" r="2.4"/>
<circle cx="500.7" cy="467.9" r="2.4"/>
<circle cx="501.6" cy="471.2" r="2.4"/>
<circle cx="502.6" cy="476.7" r="2.4"/>
<circle cx="504" cy="479.4" r="2.4"/>
<ellipse cx="305.5" cy="462.5" rx="4" ry="12.5"/>
<ellipse cx="299" cy="466.5" rx="3.8" ry="9.5"/>
<ellipse cx="292.5" cy="472.5" rx="3.6" ry="7"/>
<ellipse cx="316" cy="461" rx="4.2" ry="9.5"/>
<ellipse cx="327" cy="465.5" rx="5.6" ry="8"/>
<ellipse cx="345.5" cy="448.5" rx="2.3" ry="4"/>
<ellipse cx="347.8" cy="455.5" rx="2.3" ry="4.5"/>
<ellipse cx="349.5" cy="464.5" rx="2.5" ry="4.5"/>
<ellipse cx="353.5" cy="469" rx="2.5" ry="4"/>
<ellipse cx="356" cy="474" rx="2.6" ry="4"/>
<ellipse cx="358" cy="479" rx="2.5" ry="4"/>
<ellipse cx="359.5" cy="484" rx="2.2" ry="3.5"/>
<ellipse cx="368" cy="472" rx="2" ry="4"/>
<ellipse cx="370" cy="478" rx="2" ry="4"/>
<ellipse cx="396" cy="492.5" rx="3.5" ry="5"/>
<ellipse cx="242" cy="470" rx="5.5" ry="4.5"/>
<ellipse cx="251" cy="461" rx="6.5" ry="5.5"/>
<ellipse cx="266" cy="459" rx="6.5" ry="7.5"/>
<ellipse cx="276" cy="458" rx="3.5" ry="7.5"/>
</g>
<line x1="139.27" y1="412.1" x2="139.27" y2="521.8" stroke="#b0b0b0" stroke-width="0.8"/>
<line x1="186.03" y1="412.1" x2="186.03" y2="521.8" stroke="#b0b0b0" stroke-width="0.8"/>
<line x1="232.8" y1="412.1" x2="232.8" y2="521.8" stroke="#b0b0b0" stroke-width="0.8"/>
<line x1="279.57" y1="412.1" x2="279.57" y2="521.8" stroke="#b0b0b0" stroke-width="0.8"/>
<line x1="326.33" y1="412.1" x2="326.33" y2="521.8" stroke="#b0b0b0" stroke-width="0.8"/>
<line x1="373.1" y1="412.1" x2="373.1" y2="521.8" stroke="#b0b0b0" stroke-width="0.8"/>
<line x1="419.87" y1="412.1" x2="419.87" y2="521.8" stroke="#b0b0b0" stroke-width="0.8"/>
<line x1="466.63" y1="412.1" x2="466.63" y2="521.8" stroke="#b0b0b0" stroke-width="0.8"/>
<line x1="92.5" y1="499" x2="513.4" y2="499" stroke="#b0b0b0" stroke-width="0.8"/>
<line x1="92.5" y1="466.7" x2="513.4" y2="466.7" stroke="#b0b0b0" stroke-width="0.8"/>
<line x1="92.5" y1="434.4" x2="513.4" y2="434.4" stroke="#b0b0b0" stroke-width="0.8"/>
<path d="M119.6,501.2 C121.12,502.12 125.03,504.27 128.7,506.7 C132.37,509.13 137.08,515.47 141.6,515.8 C146.12,516.13 151.07,512.03 155.8,508.7 C160.53,505.37 166.13,499.23 170,495.8 C173.87,492.37 176.2,489.93 179,488.1 C181.8,486.27 184.63,485.15 186.8,484.8 C188.97,484.45 189.68,485.3 192,486 C194.32,486.7 198.02,489.55 200.7,489 C203.38,488.45 205.77,485.93 208.1,482.7 C210.43,479.47 212.78,474.27 214.7,469.6 C216.62,464.93 218.1,458 219.6,454.7 C221.1,451.4 222.05,450.07 223.7,449.8 C225.35,449.53 227.43,450.9 229.5,453.1 C231.57,455.3 233.52,460.67 236.1,463 C238.68,465.33 242.7,467.1 245,467.1 C247.3,467.1 246.88,464.38 249.9,463 C252.92,461.62 259.25,459.08 263.1,458.8 C266.95,458.52 269.7,459.78 273,461.3 C276.3,462.82 279.62,465.97 282.9,467.9 C286.18,469.83 290.02,472.63 292.7,472.9 C295.38,473.17 297.25,470.88 299,469.5 C300.75,468.12 300.98,466.23 303.2,464.6 C305.42,462.97 309.55,459.97 312.3,459.7 C315.05,459.43 317.5,461.77 319.7,463 C321.9,464.23 323.57,467.38 325.5,467.1 C327.43,466.82 329.38,463.92 331.3,461.3 C333.22,458.68 335.08,454 337,451.4 C338.92,448.8 341.02,445.7 342.8,445.7 C344.58,445.7 346.05,447.42 347.7,451.4 C349.35,455.38 351.22,465.75 352.7,469.6 C354.18,473.45 354.85,473.27 356.6,474.5 C358.35,475.73 360.18,475.77 363.2,477 C366.22,478.23 370.3,479.43 374.7,481.9 C379.1,484.37 385.48,489.05 389.6,491.8 C393.72,494.55 396.83,496.78 399.4,498.4 C401.97,500.02 402.42,500.27 405,501.5 C407.58,502.73 410.78,504.32 414.9,505.8 C419.02,507.28 425.3,510.12 429.7,510.4 C434.1,510.68 438.13,509.23 441.3,507.5 C444.47,505.77 446.52,503.03 448.7,500 C450.88,496.97 452.62,494.1 454.4,489.3 C456.18,484.5 457.62,475.88 459.4,471.2 C461.18,466.52 463.4,461.97 465.1,461.2 C466.8,460.43 467.93,463.72 469.6,466.6 C471.27,469.48 473.27,474.22 475.1,478.5 C476.93,482.78 478.92,488.93 480.6,492.3 C482.28,495.67 483.52,498.1 485.2,498.7 C486.88,499.3 488.87,498.5 490.7,495.9 C492.53,493.3 494.4,487.67 496.2,483.1 C498,478.53 500.62,470.93 501.5,468.5" fill="none" stroke="#2f7bbf" stroke-width="0.95"/>
<rect x="92.5" y="412.1" width="420.9" height="109.7" fill="none" stroke="#585858" stroke-width="1.15"/>
<line x1="89.7" y1="499" x2="92.5" y2="499" stroke="#585858" stroke-width="1"/>
<text x="87.1" y="499.5" font-size="10.4" text-anchor="end" fill="#000" textLength="6.43" lengthAdjust="spacingAndGlyphs">0</text>
<text x="80.87" y="504.7" font-size="15.43" text-anchor="end" fill="#000" textLength="17.77" lengthAdjust="spacingAndGlyphs">10</text>
<line x1="89.7" y1="466.7" x2="92.5" y2="466.7" stroke="#585858" stroke-width="1"/>
<text x="87.1" y="467.2" font-size="10.4" text-anchor="end" fill="#000" textLength="6.43" lengthAdjust="spacingAndGlyphs">1</text>
<text x="80.87" y="472.4" font-size="15.43" text-anchor="end" fill="#000" textLength="17.77" lengthAdjust="spacingAndGlyphs">10</text>
<line x1="89.7" y1="434.4" x2="92.5" y2="434.4" stroke="#585858" stroke-width="1"/>
<text x="87.1" y="434.9" font-size="10.4" text-anchor="end" fill="#000" textLength="6.43" lengthAdjust="spacingAndGlyphs">2</text>
<text x="80.87" y="440.1" font-size="15.43" text-anchor="end" fill="#000" textLength="17.77" lengthAdjust="spacingAndGlyphs">10</text>
<line x1="92.5" y1="521.8" x2="92.5" y2="524.6" stroke="#585858" stroke-width="1"/>
<text x="92.5" y="536.9" font-size="14.83" text-anchor="middle" fill="#000" textLength="9.16" lengthAdjust="spacingAndGlyphs">0</text>
<line x1="139.27" y1="521.8" x2="139.27" y2="524.6" stroke="#585858" stroke-width="1"/>
<text x="139.27" y="536.9" font-size="14.83" text-anchor="middle" fill="#000" textLength="18.32" lengthAdjust="spacingAndGlyphs">60</text>
<line x1="186.03" y1="521.8" x2="186.03" y2="524.6" stroke="#585858" stroke-width="1"/>
<text x="186.03" y="536.9" font-size="14.83" text-anchor="middle" fill="#000" textLength="27.49" lengthAdjust="spacingAndGlyphs">120</text>
<line x1="232.8" y1="521.8" x2="232.8" y2="524.6" stroke="#585858" stroke-width="1"/>
<text x="232.8" y="536.9" font-size="14.83" text-anchor="middle" fill="#000" textLength="27.49" lengthAdjust="spacingAndGlyphs">180</text>
<line x1="279.57" y1="521.8" x2="279.57" y2="524.6" stroke="#585858" stroke-width="1"/>
<text x="279.57" y="536.9" font-size="14.83" text-anchor="middle" fill="#000" textLength="27.49" lengthAdjust="spacingAndGlyphs">240</text>
<line x1="326.33" y1="521.8" x2="326.33" y2="524.6" stroke="#585858" stroke-width="1"/>
<text x="326.33" y="536.9" font-size="14.83" text-anchor="middle" fill="#000" textLength="27.49" lengthAdjust="spacingAndGlyphs">300</text>
<line x1="373.1" y1="521.8" x2="373.1" y2="524.6" stroke="#585858" stroke-width="1"/>
<text x="373.1" y="536.9" font-size="14.83" text-anchor="middle" fill="#000" textLength="27.49" lengthAdjust="spacingAndGlyphs">360</text>
<line x1="419.87" y1="521.8" x2="419.87" y2="524.6" stroke="#585858" stroke-width="1"/>
<text x="419.87" y="536.9" font-size="14.83" text-anchor="middle" fill="#000" textLength="18.32" lengthAdjust="spacingAndGlyphs">60</text>
<line x1="466.63" y1="521.8" x2="466.63" y2="524.6" stroke="#585858" stroke-width="1"/>
<text x="466.63" y="536.9" font-size="14.83" text-anchor="middle" fill="#000" textLength="27.49" lengthAdjust="spacingAndGlyphs">120</text>
</g>
<g>
<line x1="605.95" y1="17" x2="605.95" y2="126.7" stroke="#b0b0b0" stroke-width="0.8"/>
<line x1="563.9" y1="89.9" x2="648" y2="89.9" stroke="#b0b0b0" stroke-width="0.8"/>
<line x1="563.9" y1="41.1" x2="648" y2="41.1" stroke="#b0b0b0" stroke-width="0.8"/>
<line x1="563.9" y1="97.85" x2="648" y2="97.85" stroke="#2f862f" stroke-width="1.1"/>
<path d="M564,116.2 C565.37,115.63 569.4,114.55 572.2,112.8 C575,111.05 578.28,108.32 580.8,105.7 C583.32,103.08 585.15,100.5 587.3,97.1 C589.45,93.7 591.55,89.6 593.7,85.3 C595.85,81 598.05,76.15 600.2,71.3 C602.35,66.45 604.45,60.68 606.6,56.2 C608.75,51.72 610.95,47.73 613.1,44.4 C615.25,41.07 617.65,37.88 619.5,36.2 C621.35,34.52 622.4,34.18 624.2,34.3 C626,34.42 628.22,35.22 630.3,36.9 C632.38,38.58 634.38,40.57 636.7,44.4 C639.02,48.23 642.95,57.32 644.2,59.9" fill="none" stroke="#ff2020" stroke-width="1.1"/>
<rect x="563.9" y="17" width="84.1" height="109.7" fill="none" stroke="#585858" stroke-width="1.15"/>
<line x1="561.1" y1="89.9" x2="563.9" y2="89.9" stroke="#585858" stroke-width="1"/>
<text x="558.3" y="95" font-size="14.83" text-anchor="end" fill="#000" textLength="22.9" lengthAdjust="spacingAndGlyphs">1.0</text>
<line x1="561.1" y1="41.1" x2="563.9" y2="41.1" stroke="#585858" stroke-width="1"/>
<text x="558.3" y="46.2" font-size="14.83" text-anchor="end" fill="#000" textLength="22.9" lengthAdjust="spacingAndGlyphs">1.2</text>
<line x1="563.9" y1="126.7" x2="563.9" y2="129.5" stroke="#585858" stroke-width="1"/>
<text x="563.9" y="141.8" font-size="14.83" text-anchor="middle" fill="#000" textLength="27.49" lengthAdjust="spacingAndGlyphs">100</text>
<line x1="605.95" y1="126.7" x2="605.95" y2="129.5" stroke="#585858" stroke-width="1"/>
<text x="605.95" y="141.8" font-size="14.83" text-anchor="middle" fill="#000" textLength="27.49" lengthAdjust="spacingAndGlyphs">115</text>
<line x1="648" y1="126.7" x2="648" y2="129.5" stroke="#585858" stroke-width="1"/>
<text x="648" y="141.8" font-size="14.83" text-anchor="middle" fill="#000" textLength="27.49" lengthAdjust="spacingAndGlyphs">130</text>
</g>
<g>
<line x1="605.95" y1="148.6" x2="605.95" y2="258.3" stroke="#b0b0b0" stroke-width="0.8"/>
<line x1="563.9" y1="226.97" x2="648" y2="226.97" stroke="#b0b0b0" stroke-width="0.8"/>
<line x1="563.9" y1="195.63" x2="648" y2="195.63" stroke="#b0b0b0" stroke-width="0.8"/>
<line x1="563.9" y1="164.3" x2="648" y2="164.3" stroke="#b0b0b0" stroke-width="0.8"/>
<line x1="563.9" y1="231.5" x2="648" y2="231.5" stroke="#2f862f" stroke-width="1.1"/>
<path d="M564,228.4 C565.37,228.02 569.4,227.1 572.2,226.1 C575,225.1 577.93,223.73 580.8,222.4 C583.67,221.07 586.53,220.07 589.4,218.1 C592.27,216.13 595.48,213.28 598,210.6 C600.52,207.92 602.35,205.23 604.5,202 C606.65,198.77 608.75,194.97 610.9,191.2 C613.05,187.43 615.25,183.15 617.4,179.4 C619.55,175.65 621.65,171.75 623.8,168.7 C625.95,165.65 628.33,162.8 630.3,161.1 C632.27,159.4 633.82,158.57 635.6,158.5 C637.38,158.43 639.45,159.72 641,160.7 C642.55,161.68 644.25,163.78 644.9,164.4" fill="none" stroke="#ff2020" stroke-width="1.1"/>
<rect x="563.9" y="148.6" width="84.1" height="109.7" fill="none" stroke="#585858" stroke-width="1.15"/>
<line x1="561.1" y1="258.3" x2="563.9" y2="258.3" stroke="#585858" stroke-width="1"/>
<text x="558.3" y="263.4" font-size="14.83" text-anchor="end" fill="#000" textLength="9.16" lengthAdjust="spacingAndGlyphs">0</text>
<line x1="561.1" y1="226.97" x2="563.9" y2="226.97" stroke="#585858" stroke-width="1"/>
<text x="558.3" y="232.07" font-size="14.83" text-anchor="end" fill="#000" textLength="9.16" lengthAdjust="spacingAndGlyphs">1</text>
<line x1="561.1" y1="195.63" x2="563.9" y2="195.63" stroke="#585858" stroke-width="1"/>
<text x="558.3" y="200.73" font-size="14.83" text-anchor="end" fill="#000" textLength="9.16" lengthAdjust="spacingAndGlyphs">2</text>
<line x1="561.1" y1="164.3" x2="563.9" y2="164.3" stroke="#585858" stroke-width="1"/>
<text x="558.3" y="169.4" font-size="14.83" text-anchor="end" fill="#000" textLength="9.16" lengthAdjust="spacingAndGlyphs">3</text>
<line x1="563.9" y1="258.3" x2="563.9" y2="261.1" stroke="#585858" stroke-width="1"/>
<text x="563.9" y="273.4" font-size="14.83" text-anchor="middle" fill="#000" textLength="27.49" lengthAdjust="spacingAndGlyphs">100</text>
<line x1="605.95" y1="258.3" x2="605.95" y2="261.1" stroke="#585858" stroke-width="1"/>
<text x="605.95" y="273.4" font-size="14.83" text-anchor="middle" fill="#000" textLength="27.49" lengthAdjust="spacingAndGlyphs">115</text>
<line x1="648" y1="258.3" x2="648" y2="261.1" stroke="#585858" stroke-width="1"/>
<text x="648" y="273.4" font-size="14.83" text-anchor="middle" fill="#000" textLength="27.49" lengthAdjust="spacingAndGlyphs">130</text>
</g>
<g>
<line x1="605.95" y1="280.3" x2="605.95" y2="390" stroke="#b0b0b0" stroke-width="0.8"/>
<line x1="563.9" y1="353.43" x2="648" y2="353.43" stroke="#b0b0b0" stroke-width="0.8"/>
<line x1="563.9" y1="316.87" x2="648" y2="316.87" stroke="#b0b0b0" stroke-width="0.8"/>
<line x1="563.9" y1="376.4" x2="648" y2="376.4" stroke="#2f862f" stroke-width="1.1"/>
<path d="M564,352 C565.02,352.35 568.2,353.63 570.1,354.1 C572,354.57 573.25,354.9 575.4,354.8 C577.55,354.7 580.3,354.43 583,353.5 C585.7,352.57 588.73,351.1 591.6,349.2 C594.47,347.3 597.7,344.5 600.2,342.1 C602.7,339.7 604.45,337.57 606.6,334.8 C608.75,332.03 610.95,328.65 613.1,325.5 C615.25,322.35 617.35,319.3 619.5,315.9 C621.65,312.5 623.85,308.15 626,305.1 C628.15,302.05 630.25,299.47 632.4,297.6 C634.55,295.73 636.82,294.37 638.9,293.9 C640.98,293.43 643.9,294.65 644.9,294.8" fill="none" stroke="#ff2020" stroke-width="1.1"/>
<rect x="563.9" y="280.3" width="84.1" height="109.7" fill="none" stroke="#585858" stroke-width="1.15"/>
<line x1="561.1" y1="390" x2="563.9" y2="390" stroke="#585858" stroke-width="1"/>
<text x="558.3" y="395.1" font-size="14.83" text-anchor="end" fill="#000" textLength="9.16" lengthAdjust="spacingAndGlyphs">0</text>
<line x1="561.1" y1="353.43" x2="563.9" y2="353.43" stroke="#585858" stroke-width="1"/>
<text x="558.3" y="358.53" font-size="14.83" text-anchor="end" fill="#000" textLength="9.16" lengthAdjust="spacingAndGlyphs">1</text>
<line x1="561.1" y1="316.87" x2="563.9" y2="316.87" stroke="#585858" stroke-width="1"/>
<text x="558.3" y="321.97" font-size="14.83" text-anchor="end" fill="#000" textLength="9.16" lengthAdjust="spacingAndGlyphs">2</text>
<line x1="561.1" y1="280.3" x2="563.9" y2="280.3" stroke="#585858" stroke-width="1"/>
<text x="558.3" y="285.4" font-size="14.83" text-anchor="end" fill="#000" textLength="9.16" lengthAdjust="spacingAndGlyphs">3</text>
<line x1="563.9" y1="390" x2="563.9" y2="392.8" stroke="#585858" stroke-width="1"/>
<text x="563.9" y="405.1" font-size="14.83" text-anchor="middle" fill="#000" textLength="27.49" lengthAdjust="spacingAndGlyphs">100</text>
<line x1="605.95" y1="390" x2="605.95" y2="392.8" stroke="#585858" stroke-width="1"/>
<text x="605.95" y="405.1" font-size="14.83" text-anchor="middle" fill="#000" textLength="27.49" lengthAdjust="spacingAndGlyphs">115</text>
<line x1="648" y1="390" x2="648" y2="392.8" stroke="#585858" stroke-width="1"/>
<text x="648" y="405.1" font-size="14.83" text-anchor="middle" fill="#000" textLength="27.49" lengthAdjust="spacingAndGlyphs">130</text>
</g>
<g>
<line x1="605.95" y1="412.1" x2="605.95" y2="521.8" stroke="#b0b0b0" stroke-width="0.8"/>
<line x1="563.9" y1="485.23" x2="648" y2="485.23" stroke="#b0b0b0" stroke-width="0.8"/>
<line x1="563.9" y1="448.67" x2="648" y2="448.67" stroke="#b0b0b0" stroke-width="0.8"/>
<line x1="563.9" y1="505.4" x2="648" y2="505.4" stroke="#2f862f" stroke-width="1.1"/>
<path d="M564,506.1 C565.37,505.67 569.4,504.83 572.2,503.5 C575,502.17 578.28,500.18 580.8,498.1 C583.32,496.02 585.15,494.33 587.3,491 C589.45,487.67 591.73,482.75 593.7,478.1 C595.67,473.45 597.48,468.12 599.1,463.1 C600.72,458.08 601.97,453.02 603.4,448 C604.83,442.98 606.27,437.12 607.7,433 C609.13,428.88 610.68,425.28 612,423.3 C613.32,421.32 614.35,421.1 615.6,421.1 C616.85,421.1 617.95,421.32 619.5,423.3 C621.05,425.28 623.1,428.88 624.9,433 C626.7,437.12 628.33,442.45 630.3,448 C632.27,453.55 634.27,460.13 636.7,466.3 C639.13,472.47 643.53,481.88 644.9,485" fill="none" stroke="#ff2020" stroke-width="1.1"/>
<rect x="563.9" y="412.1" width="84.1" height="109.7" fill="none" stroke="#585858" stroke-width="1.15"/>
<line x1="561.1" y1="521.8" x2="563.9" y2="521.8" stroke="#585858" stroke-width="1"/>
<text x="558.3" y="526.9" font-size="14.83" text-anchor="end" fill="#000" textLength="9.16" lengthAdjust="spacingAndGlyphs">0</text>
<line x1="561.1" y1="485.23" x2="563.9" y2="485.23" stroke="#585858" stroke-width="1"/>
<text x="558.3" y="490.33" font-size="14.83" text-anchor="end" fill="#000" textLength="9.16" lengthAdjust="spacingAndGlyphs">2</text>
<line x1="561.1" y1="448.67" x2="563.9" y2="448.67" stroke="#585858" stroke-width="1"/>
<text x="558.3" y="453.77" font-size="14.83" text-anchor="end" fill="#000" textLength="9.16" lengthAdjust="spacingAndGlyphs">4</text>
<line x1="561.1" y1="412.1" x2="563.9" y2="412.1" stroke="#585858" stroke-width="1"/>
<text x="558.3" y="417.2" font-size="14.83" text-anchor="end" fill="#000" textLength="9.16" lengthAdjust="spacingAndGlyphs">6</text>
<line x1="563.9" y1="521.8" x2="563.9" y2="524.6" stroke="#585858" stroke-width="1"/>
<text x="563.9" y="536.9" font-size="14.83" text-anchor="middle" fill="#000" textLength="27.49" lengthAdjust="spacingAndGlyphs">100</text>
<line x1="605.95" y1="521.8" x2="605.95" y2="524.6" stroke="#585858" stroke-width="1"/>
<text x="605.95" y="536.9" font-size="14.83" text-anchor="middle" fill="#000" textLength="27.49" lengthAdjust="spacingAndGlyphs">115</text>
<line x1="648" y1="521.8" x2="648" y2="524.6" stroke="#585858" stroke-width="1"/>
<text x="648" y="536.9" font-size="14.83" text-anchor="middle" fill="#000" textLength="27.49" lengthAdjust="spacingAndGlyphs">130</text>
</g>
<line x1="92.5" y1="17" x2="513.4" y2="17" stroke="#585858" stroke-width="1"/>
<line x1="93.3" y1="17" x2="370.8" y2="17" stroke="#7a7a7a" stroke-width="1.9"/>
<path d="M102.1,13.5 L93.6,17 L102.1,20.5" fill="none" stroke="#7a7a7a" stroke-width="1.9" stroke-linejoin="miter"/>
<path d="M362,13.5 L370.5,17 L362,20.5" fill="none" stroke="#7a7a7a" stroke-width="1.9" stroke-linejoin="miter"/>
<line x1="375.1" y1="17" x2="511.5" y2="17" stroke="#7a7a7a" stroke-width="1.9"/>
<path d="M383.9,13.5 L375.4,17 L383.9,20.5" fill="none" stroke="#7a7a7a" stroke-width="1.9" stroke-linejoin="miter"/>
<path d="M502.7,13.5 L511.2,17 L502.7,20.5" fill="none" stroke="#7a7a7a" stroke-width="1.9" stroke-linejoin="miter"/>
<text x="232" y="10.9" font-size="14.83" text-anchor="middle" fill="#7a7a7a" textLength="44.12" lengthAdjust="spacingAndGlyphs">MY 36</text>
<text x="449.6" y="10.9" font-size="14.83" text-anchor="middle" fill="#7a7a7a" textLength="44.12" lengthAdjust="spacingAndGlyphs">MY 37</text>
<text transform="translate(12.9,72.6) rotate(-90)" font-size="14.83" text-anchor="middle" fill="#000" textLength="101" lengthAdjust="spacingAndGlyphs">Sun-corrected</text>
<text transform="translate(28.9,70.8) rotate(-90)" font-size="14.83" text-anchor="middle" fill="#000" textLength="69.4" lengthAdjust="spacingAndGlyphs">Mars Ly <tspan font-style="italic">β</tspan></text>
<text transform="translate(46.6,71.6) rotate(-90)" font-size="14.83" text-anchor="middle" fill="#000" textLength="89.7" lengthAdjust="spacingAndGlyphs">emission (R)</text>
<text transform="translate(18.7,203.3) rotate(-90)" font-size="14.83" text-anchor="middle" fill="#000" textLength="68.3" lengthAdjust="spacingAndGlyphs">H density</text>
<text transform="translate(37.6,202.6) rotate(-90)" font-size="14.83" text-anchor="middle" fill="#000" textLength="48.3" lengthAdjust="spacingAndGlyphs">(cm<tspan font-size="10.4" dy="-5.5">−3</tspan><tspan dy="5.5">)</tspan></text>
<text transform="translate(12.6,334.6) rotate(-90)" font-size="14.83" text-anchor="middle" fill="#000" textLength="76" lengthAdjust="spacingAndGlyphs">H loss rate</text>
<text transform="translate(31.5,334.6) rotate(-90)" font-size="14.83" text-anchor="middle" fill="#000" textLength="74.5" lengthAdjust="spacingAndGlyphs">(cm<tspan font-size="10.4" dy="-5.5">−2</tspan><tspan dy="5.5"> s</tspan><tspan font-size="10.4" dy="-5.5">−1</tspan><tspan dy="5.5">)</tspan></text>
<text transform="translate(21.9,467.2) rotate(-90)" font-size="14.83" text-anchor="middle" fill="#000" textLength="64.3" lengthAdjust="spacingAndGlyphs">H<tspan font-size="10.4" dy="2.6">2</tspan><tspan dy="-2.6">O VMR</tspan></text>
<text transform="translate(39.8,468.7) rotate(-90)" font-size="14.83" text-anchor="middle" fill="#000" textLength="43" lengthAdjust="spacingAndGlyphs">(ppm)</text>
<text transform="translate(531.5,73.2) rotate(-90)" font-size="14.83" text-anchor="middle" fill="#000" textLength="36.97" lengthAdjust="spacingAndGlyphs">Ratio</text>
<text transform="translate(546,204.6) rotate(-90)" font-size="14.83" text-anchor="middle" fill="#000" textLength="36.97" lengthAdjust="spacingAndGlyphs">Ratio</text>
<text transform="translate(546,336.4) rotate(-90)" font-size="14.83" text-anchor="middle" fill="#000" textLength="36.97" lengthAdjust="spacingAndGlyphs">Ratio</text>
<text transform="translate(546,468.4) rotate(-90)" font-size="14.83" text-anchor="middle" fill="#000" textLength="36.97" lengthAdjust="spacingAndGlyphs">Ratio</text>
<text x="302.9" y="553.3" font-size="14.83" text-anchor="middle" fill="#000" textLength="155.85" lengthAdjust="spacingAndGlyphs">Solar Longitude (deg)</text>
<text x="605.6" y="553.3" font-size="14.83" text-anchor="middle" fill="#000" textLength="155.85" lengthAdjust="spacingAndGlyphs">Solar Longitude (deg)</text>
</svg>
</body></html>
